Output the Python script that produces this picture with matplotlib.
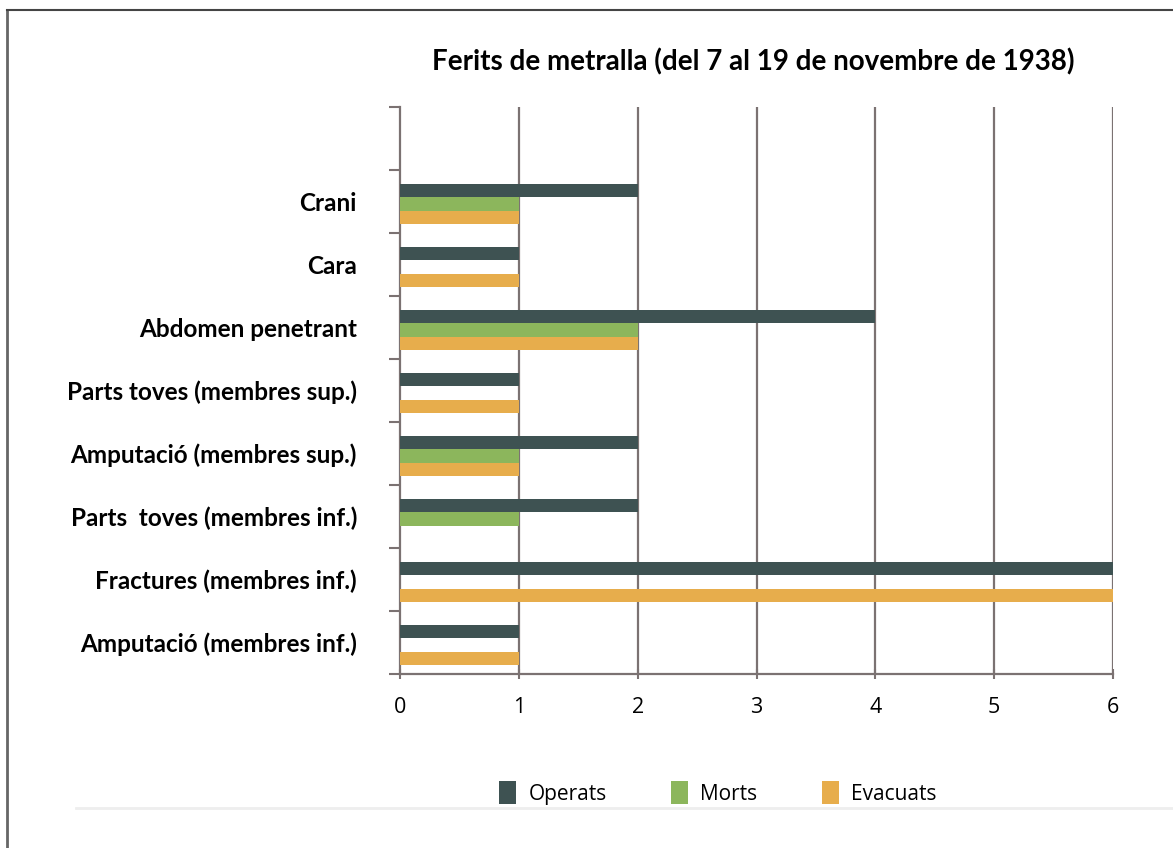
import numpy as np
import matplotlib.pyplot as plt
from matplotlib.patches import Patch
from matplotlib.lines import Line2D

categories = ["Crani", "Cara", "Abdomen penetrant", "Parts toves (membres sup.)",
              "Amputació (membres sup.)", "Parts  toves (membres inf.)",
              "Fractures (membres inf.)", "Amputació (membres inf.)"]
operats = [2, 1, 4, 1, 2, 2, 6, 1]
morts = [1, 0, 2, 0, 1, 1, 0, 0]
evacuats = [1, 1, 2, 1, 1, 0, 6, 1]
series_names = ["Operats", "Morts", "Evacuats"]
colors = ["#3e5252", "#8cb65c", "#e7ad4c"]
xticks = [0, 1, 2, 3, 4, 5, 6]

plt.rcParams['font.family'] = ['Lato', 'DejaVu Sans']

fig = plt.figure(figsize=(11.73, 8.48), dpi=100)
ax = fig.add_axes([400/1173, 1 - 674/848, 713/1173, 567/848])

# one empty band on top, categories start at 1
ypos = np.arange(len(categories)) + 1
h = 0.215
shift = 0.04
for k, (vals, c) in enumerate(zip([operats, morts, evacuats], colors)):
    ax.barh(ypos + shift + (k - 1) * h, vals, height=h, color=c, zorder=3)

ax.set_xlim(0, 6)
ax.set_ylim(len(categories) + 0.5, -0.5)

for x in xticks[1:]:
    ax.axvline(x, color="#7b7272", lw=1.6, zorder=2)

ax.set_xticks(xticks)
ax.set_xticklabels([str(x) for x in xticks], fontsize=15.5, family=['Open Sans', 'DejaVu Sans'])
ax.tick_params(axis='x', length=7, width=1.5, color="#7b7272", pad=13, direction='inout')

ax.set_yticks(np.arange(len(categories) + 2) - 0.5)
ax.set_yticklabels([])
ax.set_yticks(ypos, minor=True)
ax.set_yticklabels(categories, minor=True, fontsize=17.5, fontweight='bold')
ax.tick_params(axis='y', which='major', length=8, width=1.5, color="#7b7272")
ax.tick_params(axis='y', which='minor', length=0, pad=31)

for s in ['top', 'right']:
    ax.spines[s].set_visible(False)
for s in ['left', 'bottom']:
    ax.spines[s].set_color("#7b7272")
    ax.spines[s].set_linewidth(1.6)

fig.text(753/1173, 1 - 62/848, "Ferits de metralla (del 7 al 19 de novembre de 1938)",
         ha='center', va='center', fontsize=20, fontweight='bold')

handles = [Patch(facecolor=c, edgecolor='none') for c in colors]
fig.legend(handles, series_names, loc='center', bbox_to_anchor=(718/1173, 1 - 793/848),
           ncol=3, frameon=False, handlelength=0.8, handleheight=1.3, handletextpad=0.6,
           columnspacing=3.1, prop={'family': ['Open Sans', 'DejaVu Sans'], 'size': 15})

# frame of the page and the faint separator line
fig.add_artist(Line2D([7/1173, 7/1173], [0, 1 - 10/848], transform=fig.transFigure,
                      color="#666666", lw=2))
fig.add_artist(Line2D([7/1173, 1], [1 - 10/848, 1 - 10/848], transform=fig.transFigure,
                      color="#444444", lw=1.5))
fig.add_artist(Line2D([76/1173, 1], [1 - 808/848, 1 - 808/848], transform=fig.transFigure,
                      color="#eeeeee", lw=2))

fig.savefig("out.png", dpi=100, facecolor='white')
